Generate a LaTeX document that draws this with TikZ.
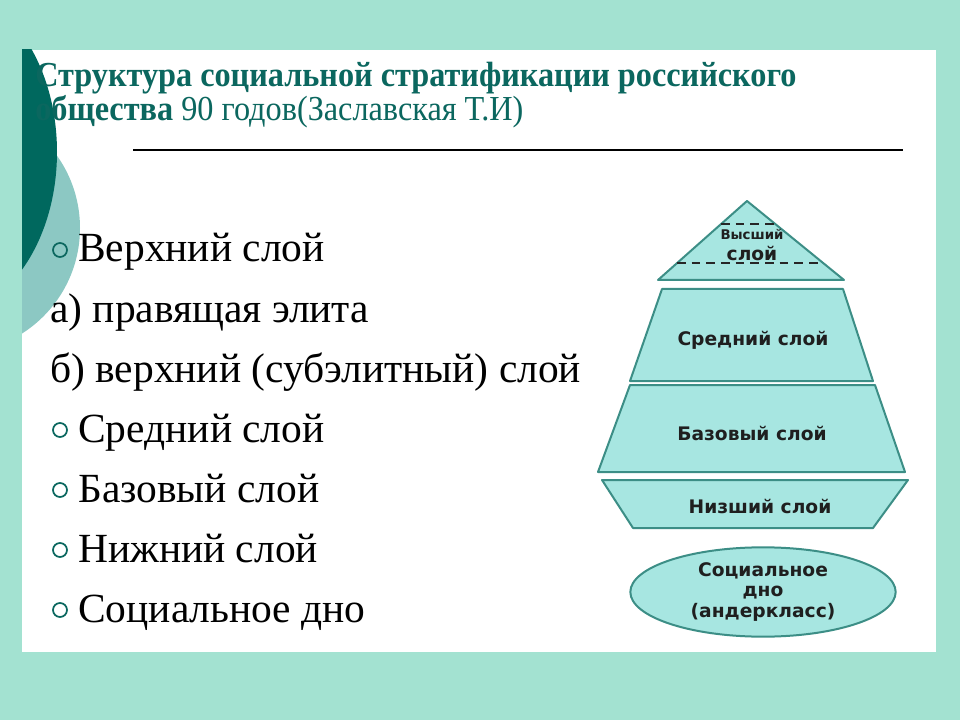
\documentclass[tikz,border=0pt]{standalone}
\usepackage{fontspec}
\setmainfont{Liberation Serif}
\newfontfamily\headfont[FakeStretch=0.92]{Liberation Serif}
\newfontfamily\pyrfont{DejaVu Sans}
\usetikzlibrary{shapes.geometric}

\definecolor{mintbg}{HTML}{A3E2D1}
\definecolor{deepteal}{HTML}{00685E}
\definecolor{greyteal}{HTML}{8CC8C3}
\definecolor{titleteal}{HTML}{0B675F}
\definecolor{layerfill}{HTML}{A7E6E1}
\definecolor{layerline}{HTML}{3C8E86}

\tikzset{
  layer/.style={fill=layerfill, draw=layerline, line width=1.5pt, line join=round},
  layertext/.style={font=\pyrfont\bfseries\fontsize{14}{15.4}\selectfont, align=center, text=black!88},
  cutline/.style={draw=black!85, line width=1.6pt, dash pattern=on 6.5pt off 4.5pt},
  ring/.style={circle, draw=titleteal, line width=1.3pt, minimum size=10.5pt, inner sep=0pt}
}

\begin{document}
\begin{tikzpicture}[x=0.75pt, y=-0.75pt]

        % slide background and decoration
        \fill[mintbg] (0,0) rectangle (960,720);
        \fill[white] (22,50) rectangle (936,652);
        \begin{scope}
          \clip (22,50) rectangle (936,652);
          \fill[greyteal] (-45,228) circle [radius=125];
          \fill[deepteal] (-60,152) ellipse [x radius=117, y radius=165];
        \end{scope}

        % heading
        \begin{scope}[every node/.style={anchor=base west, text=titleteal, inner sep=0pt}]
          \node (head1) at (35,87) {\headfont\fontsize{26.3}{30}\selectfont\bfseries Структура социальной стратификации российского};
          \node (head2) at (35,121) {\headfont\fontsize{26.3}{30}\selectfont\textbf{общества} 90 годов(Заславская Т.И)};
        \end{scope}
        \draw[line width=1.1pt] (133,150) -- (903,150);

        % list
        \begin{scope}[every node/.style={anchor=base west, inner sep=0pt, font=\fontsize{31.1}{36}\selectfont}]
          \node (top)   at (78,262) {Верхний слой};
          \node (elite) at (50,322) {а) правящая элита};
          \node (sub)   at (50,382) {б) верхний (субэлитный) слой};
          \node (mid)   at (78,442) {Средний слой};
          \node (base)  at (78,502) {Базовый слой};
          \node (low)   at (78,562) {Нижний слой};
          \node (bot)   at (78,622) {Социальное дно};
        \end{scope}
        \begin{scope}[every node/.style={ring}]
          \node (r1) at (60,250) {};
          \node (r2) at (60,430) {};
          \node (r3) at (60,490) {};
          \node (r4) at (60,550) {};
          \node (r5) at (60,610) {};
        \end{scope}

        % pyramid
        \draw[layer] (747,201) -- (844,280) -- (658,280) -- cycle;
        \draw[cutline] (721,224) -- (775,224);
        \draw[cutline] (677,263) -- (823,263);
        \draw[layer] (662,289) -- (843,289) -- (873,381) -- (630,381) -- cycle;
        \draw[layer] (630,385) -- (875,385) -- (905,472) -- (598,472) -- cycle;
        \draw[layer] (602,480) -- (908,480) -- (873,528) -- (633,528) -- cycle;

        \begin{scope}[every node/.style={layertext}]
          \node (vys)  at (752,245) {\fontsize{10}{12}\selectfont Высший\\слой};
          \node (sred) at (753,340) {Средний слой};
          \node (baz)  at (752,433) {Базовый слой};
          \node (niz)  at (760,506) {Низший слой};
          \node (dno)  [layer, ellipse, minimum width=199pt, minimum height=67pt, inner sep=0pt]
                at (763,592) {Социальное\\дно\\(андеркласс)};
        \end{scope}

      \end{tikzpicture}
\end{document}
